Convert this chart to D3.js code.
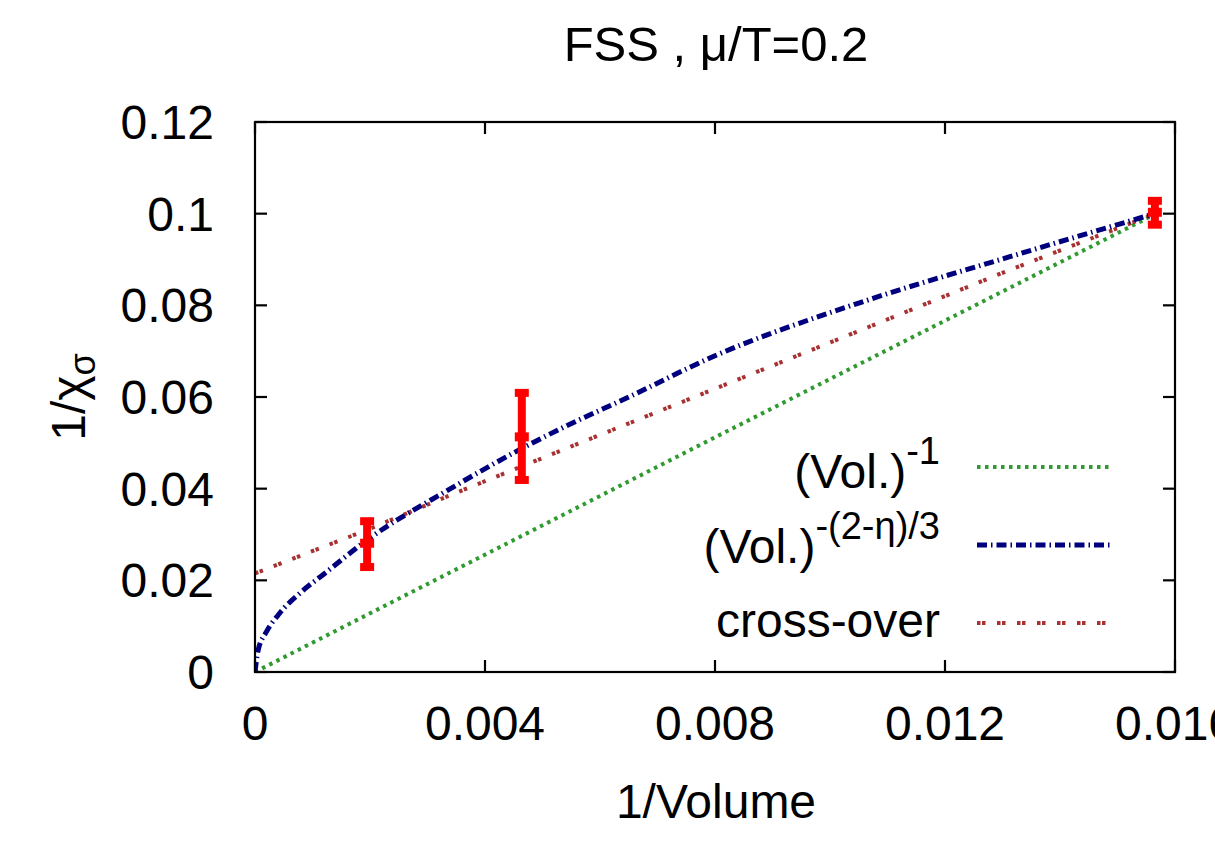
<!DOCTYPE html>
<html>
<head>
<meta charset="utf-8">
<script src="https://cdn.jsdelivr.net/npm/d3@7"></script>
<style>
  body { margin: 0; background: #fff; }
  svg { font-family: "Liberation Sans", Arial, sans-serif; }
</style>
</head>
<body>
<svg id="chart"></svg>
<script>
var w = 1215;
var h = 846;

// ticks
var xTicks = [0, 0.004, 0.008, 0.012, 0.016];
var xTickLabels = ["0", "0.004", "0.008", "0.012", "0.016"];
var yTicks = [0, 0.02, 0.04, 0.06, 0.08, 0.1, 0.12];
var yTickLabels = ["0", "0.02", "0.04", "0.06", "0.08", "0.1", "0.12"];

// measured points with error bars
var pointX = [0.00195, 0.00464, 0.01565];
var pointY = [0.0281, 0.0513, 0.1003];
var errLow = [0.0229, 0.0419, 0.0976];
var errHigh = [0.0329, 0.0609, 0.1028];

// fit curves
var greenX = [0, 0.008, 0.0157];
var greenY = [0, 0.0512, 0.1002];
var blueX = [0, 0.00005, 0.0002, 0.0004, 0.0008, 0.0012, 0.00195, 0.0034, 0.0046, 0.0053, 0.0065, 0.008, 0.0105, 0.0131, 0.0157];
var blueY = [0, 0.0045, 0.0088, 0.0124, 0.0174, 0.0214, 0.0288, 0.0400, 0.0485, 0.0530, 0.0600, 0.0690, 0.0805, 0.0905, 0.1002];
var redX = [0, 0.00195, 0.0034, 0.0053, 0.0105, 0.0131, 0.0157];
var redY = [0.0215, 0.031, 0.0386, 0.0482, 0.0744, 0.0876, 0.1002];

var margin = {left: 255, right: 40, top: 122, bottom: 174};
var fs = 48;

var svg = d3.select("#chart")
    .attr("width", w)
    .attr("height", h);

var x = d3.scaleLinear().domain([0, 0.016]).range([margin.left, w - margin.right]);
var y = d3.scaleLinear().domain([0, 0.12]).range([h - margin.bottom, margin.top]);

svg.append("clipPath").attr("id", "plotclip")
  .append("rect")
    .attr("x", x(0)).attr("y", y(0.12))
    .attr("width", x(0.016) - x(0)).attr("height", y(0) - y(0.12));

function zip(xs, ys) { return xs.map((d, i) => [d, ys[i]]); }

var line = d3.line().x(d => x(d[0])).y(d => y(d[1]));
var smooth = d3.line().x(d => x(d[0])).y(d => y(d[1])).curve(d3.curveMonotoneX);

var series = [
  {pts: zip(greenX, greenY), gen: line, color: "#2f9a2f", dash: "3.5,4.5", width: 4},
  {pts: zip(redX, redY), gen: line, color: "#a83232", dash: "3.5,1.5,3.5,11.5", width: 4},
  {pts: zip(blueX, blueY), gen: smooth, color: "#00007f", dash: "10,4,1.5,4", width: 5}
];

var plot = svg.append("g").attr("clip-path", "url(#plotclip)");
series.forEach(function (s) {
  plot.append("path")
      .datum(s.pts)
      .attr("d", s.gen)
      .style("fill", "none")
      .style("stroke", s.color)
      .style("stroke-width", s.width)
      .style("stroke-dasharray", s.dash);
});

// error bars
var bars = svg.append("g").selectAll("g")
    .data(pointX.map((d, i) => ({x: d, y: pointY[i], lo: errLow[i], hi: errHigh[i]})))
    .enter().append("g")
    .style("fill", "#ff0000");
bars.append("rect")
    .attr("x", d => x(d.x) - 4)
    .attr("y", d => y(d.hi))
    .attr("width", 8)
    .attr("height", d => y(d.lo) - y(d.hi));
bars.append("rect")
    .attr("x", d => x(d.x) - 7)
    .attr("y", d => y(d.hi) - 4)
    .attr("width", 14).attr("height", 8);
bars.append("rect")
    .attr("x", d => x(d.x) - 7)
    .attr("y", d => y(d.lo) - 4)
    .attr("width", 14).attr("height", 8);
bars.append("rect")
    .attr("x", d => x(d.x) - 7)
    .attr("y", d => y(d.y) - 4.5)
    .attr("width", 14).attr("height", 9);

// frame and mirrored inward ticks
var frame = svg.append("g").style("stroke", "#000").style("stroke-width", 2.2);
frame.append("rect")
    .attr("x", x(0)).attr("y", y(0.12))
    .attr("width", x(0.016) - x(0)).attr("height", y(0) - y(0.12))
    .style("fill", "none");
var tl = 12;
xTicks.forEach(function (t) {
  frame.append("line").attr("x1", x(t)).attr("x2", x(t)).attr("y1", y(0)).attr("y2", y(0) - tl);
  frame.append("line").attr("x1", x(t)).attr("x2", x(t)).attr("y1", y(0.12)).attr("y2", y(0.12) + tl);
});
yTicks.forEach(function (t) {
  frame.append("line").attr("x1", x(0)).attr("x2", x(0) + tl).attr("y1", y(t)).attr("y2", y(t));
  frame.append("line").attr("x1", x(0.016)).attr("x2", x(0.016) - tl).attr("y1", y(t)).attr("y2", y(t));
});

// tick labels
svg.append("g").selectAll("text")
    .data(xTicks)
    .enter().append("text")
    .attr("x", d => x(d))
    .attr("y", 740)
    .attr("text-anchor", "middle")
    .style("font-size", fs + "px")
    .text((d, i) => xTickLabels[i]);
svg.append("g").selectAll("text")
    .data(yTicks)
    .enter().append("text")
    .attr("x", 214)
    .attr("y", d => y(d) + 17)
    .attr("text-anchor", "end")
    .style("font-size", fs + "px")
    .text((d, i) => yTickLabels[i]);

// titles
svg.append("text")
    .attr("x", 716).attr("y", 61)
    .attr("text-anchor", "middle")
    .style("font-size", "49px")
    .text("FSS , \u03bc/T=0.2");
svg.append("text")
    .attr("x", 716).attr("y", 818)
    .attr("text-anchor", "middle")
    .style("font-size", fs + "px")
    .text("1/Volume");
var yt = svg.append("text")
    .attr("transform", "translate(85," + ((y(0) + y(0.12)) / 2) + ") rotate(-90)")
    .attr("text-anchor", "middle")
    .style("font-size", fs + "px");
yt.append("tspan").text("1/\u03c7");
yt.append("tspan").attr("dy", 10).style("font-size", "36px").text("\u03c3");

// legend
var legend = [
  {main: "(Vol.)", sup: "-1", base: 488, ly: 467, s: series[0]},
  {main: "(Vol.)", sup: "-(2-\u03b7)/3", base: 563, ly: 545, s: series[2]},
  {main: "cross-over", sup: null, base: 637, ly: 623, s: series[1]}
];
legend.forEach(function (e) {
  var t = svg.append("text")
      .attr("x", 940).attr("y", e.base)
      .attr("text-anchor", "end")
      .style("font-size", fs + "px");
  t.append("tspan").text(e.main);
  if (e.sup) t.append("tspan").attr("dy", -24).style("font-size", "38px").text(e.sup);
  svg.append("line")
      .attr("x1", 977).attr("x2", 1113)
      .attr("y1", e.ly).attr("y2", e.ly)
      .style("stroke", e.s.color)
      .style("stroke-width", e.s.width)
      .style("stroke-dasharray", e.s.dash);
});
</script>
</body>
</html>
